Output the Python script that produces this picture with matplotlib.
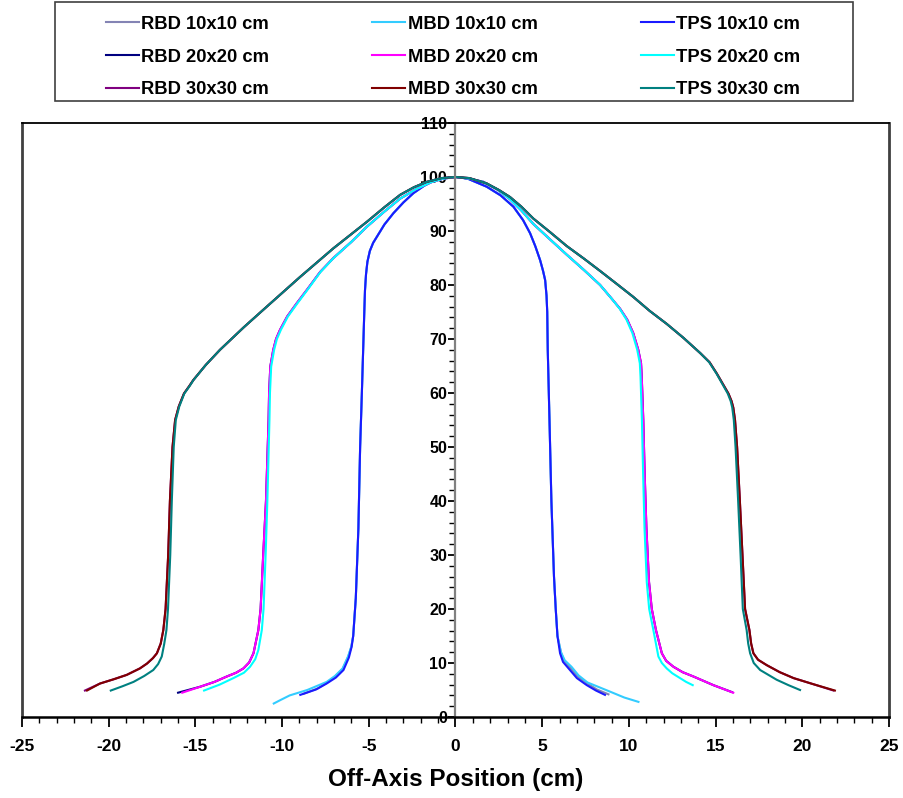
import matplotlib

matplotlib.use("Agg")
import matplotlib.pyplot as plt
from matplotlib.lines import Line2D
from matplotlib.patches import Rectangle
from matplotlib.ticker import MultipleLocator

plt.rcParams["font.family"] = ["Liberation Sans", "DejaVu Sans"]
plt.rcParams["font.weight"] = "bold"
plt.rcParams["axes.unicode_minus"] = False

# ---- data (x: cm, y: relative dose %) ----
# 10x10 field, shared centre/penumbra part
CORE10_X = [-5.90, -5.75, -5.60, -5.50, -5.40, -5.32, -5.26, -5.22, -5.16, -5.08,
            -4.94, -4.75, -4.54, -4.1, -3.58, -3.0, -2.43, -1.8, -1.27, -0.6, 0.05,
            0.7, 1.80, 2.6, 3.34, 3.9, 4.30, 4.6, 4.88, 5.05, 5.17, 5.25, 5.29,
            5.32, 5.42, 5.53, 5.68, 5.78, 5.88]
CORE10_Y = [15, 22, 35, 50, 60, 68.6, 75, 79, 82, 84.3,
            86.3, 87.8, 88.9, 91.2, 93.3, 95.3, 97.0, 98.4, 99.3, 99.8, 100,
            99.7, 98.2, 96.6, 94.5, 92.0, 89.6, 87.2, 84.6, 82.6, 80.9, 78, 75,
            68, 55, 40, 26, 20, 15]

TPS10_LX = [-8.95, -8.04, -7.43, -6.9, -6.46, -6.15, -5.99]
TPS10_LY = [4.1, 5.1, 6.2, 7.3, 8.7, 11.0, 13]
TPS10_RX = [6.03, 6.2, 6.60, 7.0, 7.57, 8.1, 8.62]
TPS10_RY = [11.8, 10.2, 8.7, 7.2, 5.9, 4.9, 4.1]

RBD10_LX = [-8.75, -7.94, -7.43, -6.95, -6.51, -6.18, -6.01]
RBD10_LY = [4.3, 5.3, 6.3, 7.5, 8.9, 11.2, 13]
RBD10_RX = [6.08, 6.25, 6.65, 7.05, 7.61, 8.15, 8.82]
RBD10_RY = [12, 10.5, 9.0, 7.5, 6.2, 5.1, 4.2]

MBD10_LX = [-10.48, -10.12, -9.56, -8.55, -7.43, -6.95, -6.51, -6.2, -6.01]
MBD10_LY = [2.5, 3.1, 4.0, 5.0, 6.5, 7.6, 9.0, 11.2, 13]
MBD10_RX = [6.08, 6.3, 6.69, 7.1, 7.61, 8.91, 9.74, 10.55]
MBD10_RY = [12, 10.5, 9.3, 7.7, 6.4, 4.7, 3.6, 2.8]

# 20x20 field
CORE20_X = [-11.37, -11.24, -11.09, -10.93, -10.83, -10.78, -10.75, -10.68, -10.51,
            -10.35, -10.12, -9.7, -9.16, -8.5, -7.81, -7.04, -6.0, -5.11, -4.1,
            -3.19, -2.3, -1.43, -0.7, 0.0,
            0.8, 1.61, 2.4, 3.14, 3.8, 4.49, 5.4, 6.42, 7.4, 8.34, 9.0, 9.49, 9.9,
            10.25, 10.54, 10.7, 10.74, 10.83, 10.91, 11.01, 11.16, 11.32, 11.56]
CORE20_Y = [16.1, 20, 30, 40, 50, 55, 60, 64.9, 68,
            70, 71.7, 74.2, 76.6, 79.4, 82.4, 85.0, 88.0, 90.8, 93.6,
            96.0, 97.7, 99.0, 99.7, 100,
            99.7, 99.1, 97.7, 95.9, 93.8, 91.3, 88.6, 85.6, 82.8, 80.0, 77.5, 75.6, 73.6,
            71.1, 68, 65.5, 63, 55, 45, 35, 25, 20, 16.1]
TPS20_CORE_X = [-11.17, -11.07, -10.95, -10.85, -10.77, -10.73, -10.70, -10.63, -10.46,
                -10.30, -10.07, -9.66, -9.12, -8.47, -7.79, -7.03, -6.0, -5.11, -4.1,
                -3.19, -2.3, -1.43, -0.7, 0.0,
                0.8, 1.61, 2.4, 3.14, 3.8, 4.49, 5.4, 6.42, 7.4, 8.34, 9.0, 9.47, 9.86,
                10.2, 10.48, 10.63, 10.67, 10.75, 10.82, 10.9, 11.03, 11.17, 11.41]

MBD20_LX = [-15.76, -14.73, -13.9, -13.19, -12.65, -12.23, -11.9, -11.65]
MBD20_LY = [4.5, 5.6, 6.5, 7.5, 8.2, 9.0, 10.1, 11.8]
MBD20_RX = [11.9, 12.15, 12.57, 13.1, 13.72, 14.87, 16.02]
MBD20_RY = [11.8, 10.4, 9.3, 8.3, 7.5, 5.9, 4.5]

RBD20_LX = [-16.0, -14.73, -13.9, -13.19, -12.65, -12.23, -11.9, -11.65]
RBD20_LY = [4.5, 5.6, 6.5, 7.5, 8.2, 9.0, 10.1, 11.8]
RBD20_RX = [11.9, 12.15, 12.57, 13.1, 13.72, 14.87, 15.95]
RBD20_RY = [11.8, 10.4, 9.3, 8.3, 7.5, 5.9, 4.6]

TPS20_LX = [-14.5, -13.6, -12.81, -12.2, -11.85, -11.55, -11.37]
TPS20_LY = [4.9, 6.0, 7.2, 8.2, 9.3, 10.7, 12.4]
TPS20_RX = [11.7, 11.9, 12.18, 12.5, 12.95, 13.3, 13.68]
TPS20_RY = [11.2, 10.0, 9.0, 8.1, 7.2, 6.5, 5.9]

# 30x30 field
CORE30_X = [-16.85, -16.72, -16.57, -16.47, -16.32, -16.17, -15.96, -15.66, -15.35,
            -15.12, -14.4, -13.58, -12.2, -10.88, -8.96, -7.04, -5.11, -4.1, -3.19,
            -2.4, -1.66, -0.8, 0.0,
            0.8, 1.80, 2.5, 3.14, 3.8, 4.49, 5.45, 6.42, 7.4, 8.34, 9.3, 10.25, 11.2,
            12.18, 13.15, 14.11, 14.65, 15.07, 15.45, 15.74, 15.92, 16.02, 16.12,
            16.24, 16.40, 16.55, 16.70, 16.95]
CORE30_Y = [16.1, 20, 30, 40, 50, 55, 57.5, 59.9, 61.3,
            62.4, 65.2, 68, 72.2, 76, 81.5, 86.8, 91.7, 94.4, 96.7,
            98.1, 99.1, 99.8, 100,
            99.8, 98.8, 97.6, 96.3, 94.5, 92.3, 89.8, 87.2, 84.9, 82.6, 80.2, 77.8, 75.2,
            72.8, 70.2, 67.4, 65.7, 63.6, 61.5, 59.9, 58.5, 57.3, 55,
            50, 40, 30, 20, 16.1]
TPS30_CORE_X = [-16.67, -16.58, -16.45, -16.36, -16.25, -16.13, -15.93, -15.64, -15.33,
                -15.11, -14.4, -13.58, -12.2, -10.88, -8.96, -7.04, -5.11, -4.1, -3.19,
                -2.4, -1.66, -0.8, 0.0,
                0.8, 1.80, 2.5, 3.14, 3.8, 4.49, 5.45, 6.42, 7.4, 8.34, 9.3, 10.25, 11.2,
                12.18, 13.15, 14.11, 14.63, 15.05, 15.42, 15.7, 15.87, 15.96, 16.05,
                16.15, 16.3, 16.44, 16.57, 16.79]

RBD30_LX = [-21.37, -20.5, -19.7, -18.96, -18.2, -17.79, -17.45, -17.22, -17.0]
RBD30_LY = [4.9, 6.2, 7.0, 7.8, 9.0, 9.9, 10.9, 11.8, 13.6]
RBD30_RX = [17.05, 17.18, 17.45, 17.95, 18.7, 19.5, 20.61, 21.8]
RBD30_RY = [13.6, 11.8, 10.6, 9.6, 8.3, 7.2, 6.1, 4.9]

MBD30_LX = [-21.25, -20.5, -19.7, -18.96, -18.2, -17.79, -17.45, -17.22, -17.0]
MBD30_LY = [4.9, 6.2, 7.0, 7.8, 9.0, 9.9, 10.9, 11.8, 13.6]
MBD30_RX = [17.05, 17.18, 17.45, 17.95, 18.7, 19.5, 20.61, 21.88]
MBD30_RY = [13.6, 11.8, 10.6, 9.6, 8.3, 7.2, 6.1, 4.9]

TPS30_LX = [-19.88, -19.2, -18.57, -17.95, -17.43, -17.15, -16.94, -16.8]
TPS30_LY = [4.9, 5.7, 6.5, 7.6, 8.7, 9.8, 11.2, 13.5]
TPS30_RX = [16.88, 16.99, 17.2, 17.57, 18.52, 19.2, 19.87]
TPS30_RY = [13.6, 11.8, 10.0, 8.7, 6.9, 5.9, 5.0]

SERIES = [
    # label, colour, x, y
    ("RBD 10x10 cm", "#8484b4", RBD10_LX + CORE10_X + RBD10_RX, RBD10_LY + CORE10_Y + RBD10_RY),
    ("MBD 10x10 cm", "#33ccff", MBD10_LX + CORE10_X + MBD10_RX, MBD10_LY + CORE10_Y + MBD10_RY),
    ("TPS 10x10 cm", "#1a1aff", TPS10_LX + CORE10_X + TPS10_RX, TPS10_LY + CORE10_Y + TPS10_RY),
    ("RBD 20x20 cm", "#000080", RBD20_LX + CORE20_X + RBD20_RX, RBD20_LY + CORE20_Y + RBD20_RY),
    ("MBD 20x20 cm", "#ff00ff", MBD20_LX + CORE20_X + MBD20_RX, MBD20_LY + CORE20_Y + MBD20_RY),
    ("TPS 20x20 cm", "#00ffff", TPS20_LX + TPS20_CORE_X + TPS20_RX, TPS20_LY + CORE20_Y + TPS20_RY),
    ("RBD 30x30 cm", "#800080", RBD30_LX + CORE30_X + RBD30_RX, RBD30_LY + CORE30_Y + RBD30_RY),
    ("MBD 30x30 cm", "#800000", MBD30_LX + CORE30_X + MBD30_RX, MBD30_LY + CORE30_Y + MBD30_RY),
    ("TPS 30x30 cm", "#008080", TPS30_LX + TPS30_CORE_X + TPS30_RX, TPS30_LY + CORE30_Y + TPS30_RY),
]

X_TICKS = list(range(-25, 26, 5))
Y_TICKS = list(range(0, 111, 10))

fig = plt.figure(figsize=(9.04, 7.98), dpi=100)
ax = fig.add_axes([22 / 904, 81 / 798, 867 / 904, 594 / 798])

handles = {}
for label, color, xs, ys in SERIES:
    (ln,) = ax.plot(xs, ys, color=color, lw=1.5, solid_joinstyle="round")
    handles[label] = ln

ax.set_xlim(-25, 25)
ax.set_ylim(0, 110)
ax.set_xticks(X_TICKS)
ax.set_yticks(Y_TICKS)
ax.xaxis.set_minor_locator(MultipleLocator(1))
ax.yaxis.set_minor_locator(MultipleLocator(2))

# y axis drawn through x = 0, plain frame around the plot
ax.spines["left"].set_position(("data", 0))
ax.spines["left"].set_color("#808080")
ax.spines["left"].set_linewidth(1.6)
ax.spines["bottom"].set_color("black")
ax.spines["bottom"].set_linewidth(1.8)
ax.spines["top"].set_color("black")
ax.spines["top"].set_linewidth(1.3)
ax.spines["right"].set_color("#404040")
ax.spines["right"].set_linewidth(2.0)
ax.add_line(Line2D([0, 0], [0, 1], transform=ax.transAxes, color="#404040",
                   lw=2.0, clip_on=False))

ax.tick_params(axis="x", which="major", direction="out", length=7, width=1.3,
               labelsize=12.5, pad=9, color="black")
ax.tick_params(axis="x", which="minor", direction="out", length=4, width=1.0, color="black")
ax.tick_params(axis="y", which="major", direction="out", length=5, width=1.3,
               labelsize=11.5, pad=1, color="black")
ax.tick_params(axis="y", which="minor", direction="out", length=4, width=1.0, color="black")
for t in ax.get_xticklabels() + ax.get_yticklabels():
    t.set_fontweight("bold")

ax.set_xlabel("Off-Axis Position (cm)", fontsize=17.5, fontweight="bold", labelpad=10)

# legend with its own frame
fig.patches.append(Rectangle((55 / 904, 1 - 101 / 798), 798 / 904, 99 / 798,
                             transform=fig.transFigure, fill=False,
                             edgecolor="#404040", lw=1.2))
order = ["RBD 10x10 cm", "RBD 20x20 cm", "RBD 30x30 cm",
         "MBD 10x10 cm", "MBD 20x20 cm", "MBD 30x30 cm",
         "TPS 10x10 cm", "TPS 20x20 cm", "TPS 30x30 cm"]
fig.legend([handles[k] for k in order], order, ncol=3, loc="center",
           bbox_to_anchor=(453 / 904, 1 - 57 / 798), frameon=False,
           prop={"weight": "bold", "size": 13.2}, handlelength=1.8,
           handletextpad=0.15, columnspacing=5.6, labelspacing=0.85)

fig.savefig("out.png", dpi=100)
